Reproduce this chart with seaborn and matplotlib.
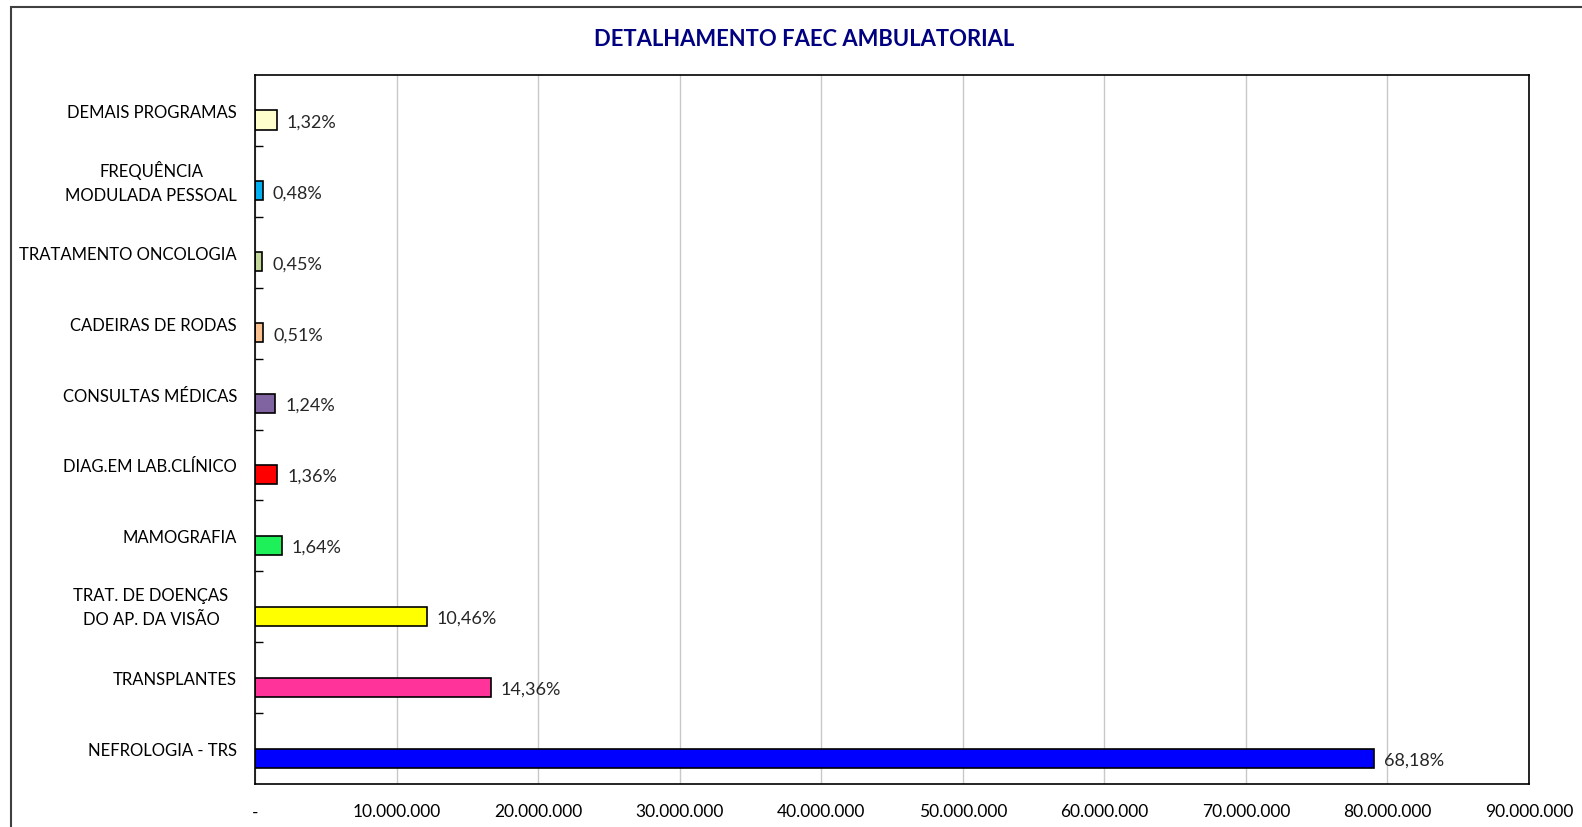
import numpy as np
import pandas as pd
import matplotlib.pyplot as plt
import matplotlib.patches as mpatches
from matplotlib.ticker import FuncFormatter, FixedLocator
import seaborn as sns

sns.set_theme(style="white")
plt.rcParams["font.family"] = ["Lato", "DejaVu Sans"]

# ---------------------------------------------------------
# Dados (de cima para baixo, como no gráfico)
# ---------------------------------------------------------
categorias = [
    "DEMAIS PROGRAMAS",
    "FREQUÊNCIA\nMODULADA PESSOAL",
    "TRATAMENTO ONCOLOGIA",
    "CADEIRAS DE RODAS",
    "CONSULTAS MÉDICAS",
    "DIAG.EM LAB.CLÍNICO",
    "MAMOGRAFIA",
    "TRAT. DE DOENÇAS  \nDO AP. DA VISÃO  ",
    "TRANSPLANTES",
    "NEFROLOGIA - TRS",
]
valores = [1530000, 556000, 522000, 591000, 1438000, 1577000, 1901000, 12127000, 16649000, 79050000]
percentuais = ["1,32%", "0,48%", "0,45%", "0,51%", "1,24%", "1,36%", "1,64%", "10,46%", "14,36%", "68,18%"]
cores = ["#FFFFCC", "#00B0F0", "#C4D79B", "#FAC090", "#8064A2",
         "#FF0000", "#1EF05A", "#FFFF00", "#FF3399", "#0000FF"]
xticks = np.arange(0, 90000001, 10000000)

# Excel usa duas séries (uma vazia), por isso a barra fica na metade de baixo
n = len(categorias)
df = pd.DataFrame({
    "categoria": categorias * 2,
    "valor": [0] * n + valores,
    "serie": ["vazio"] * n + ["real"] * n,
})

fig = plt.figure(figsize=(15.82, 8.28), dpi=100)
ax = fig.add_axes([255 / 1582, 1 - 785 / 828, (1529 - 255) / 1582, (785 - 76) / 828])

sns.barplot(data=df, x="valor", y="categoria", hue="serie", hue_order=["vazio", "real"],
            order=categorias, dodge=True, width=0.54, orient="h", legend=False,
            errorbar=None, ax=ax)

for p in ax.containers[0]:
    p.set_visible(False)
for p, c in zip(ax.containers[1], cores):
    p.set_facecolor(c)
    p.set_edgecolor("black")
    p.set_linewidth(1.2)

rotulos = ax.bar_label(ax.containers[1], labels=percentuais, padding=7, fontsize=13)
for r in rotulos:
    r.set_va("center_baseline")

ax.set_xlim(0, 90000000)
ax.set_ylim(n - 0.5, -0.5)
ax.set_xticks(xticks)
ax.xaxis.set_major_formatter(FuncFormatter(lambda v, _: "-" if v == 0 else f"{v:,.0f}".replace(",", ".")))
ax.grid(axis="x", color="#C8C8C8", linewidth=1)
ax.set_axisbelow(True)
ax.set_xlabel("")
ax.set_ylabel("")

ax.tick_params(axis="x", length=0, pad=14, labelsize=12.5, colors="black")
ax.tick_params(axis="y", which="major", length=0, pad=13, labelsize=12, colors="black")
ax.yaxis.set_minor_locator(FixedLocator(np.arange(0.5, n - 0.5, 1)))
ax.tick_params(axis="y", which="minor", direction="in", length=6, width=1, color="black", left=True)
for lbl in ax.get_yticklabels():
    lbl.set_multialignment("center")
    if "\n" in lbl.get_text():
        lbl.set_linespacing(1.65)
        lbl.set_va("center")

for s in ax.spines.values():
    s.set_visible(True)
    s.set_color("black")
    s.set_linewidth(1.2)

fig.text(804 / 1582, 1 - 39 / 828, "DETALHAMENTO FAEC AMBULATORIAL", ha="center", va="center",
         fontsize=15.8, fontweight="bold", color="#000080")

fig.patches.append(mpatches.Rectangle((11 / 1582, -0.1), 2, 1.1 - 8 / 828, transform=fig.transFigure,
                                      fill=False, edgecolor="#404040", linewidth=1.5))

fig.savefig("out.png", dpi=100, facecolor="white")
